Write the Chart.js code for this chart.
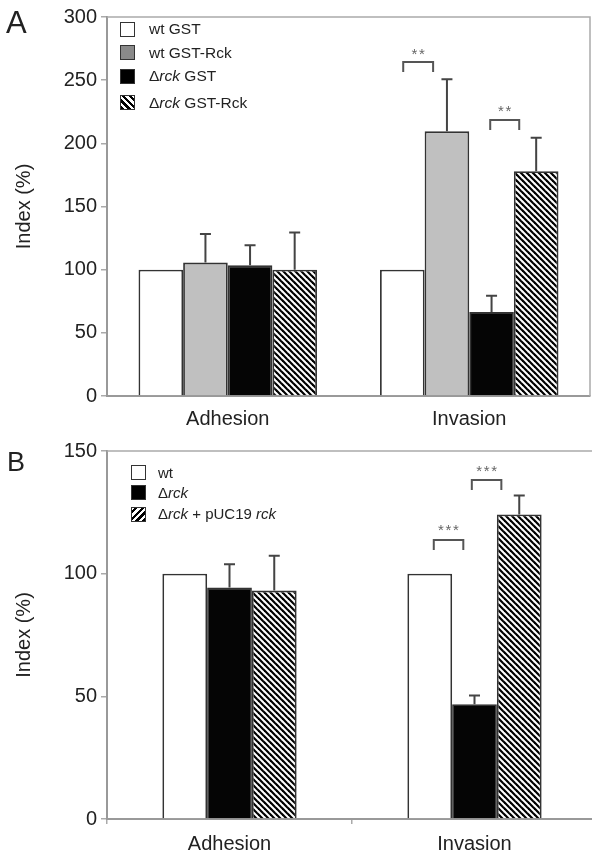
<!DOCTYPE html>
<html>
<head>
<meta charset="utf-8">
<script src="https://cdn.jsdelivr.net/npm/chart.js@4.4.1/dist/chart.umd.min.js"></script>
<style>
  html, body { margin: 0; padding: 0; background: #fff; }
  #wrap { position: relative; width: 592px; height: 855px; overflow: hidden; font-family: "Liberation Sans", Arial, sans-serif; color: #222; }
  .panel { position: absolute; left: 0; }
  .letter { position: absolute; font-size: 29px; line-height: 1; color: #222; }
  .leg { position: absolute; height: 18px; line-height: 18px; white-space: pre; }
  .box { position: absolute; box-sizing: border-box; width: 15px; height: 15px; border: 1.5px solid #333; }
</style>
</head>
<body>
<div id="wrap">
  <div class="panel" style="top:0;width:592px;height:430px"><canvas id="chartA" width="592" height="430"></canvas></div>
  <div class="panel" style="top:430px;width:600px;height:425px"><canvas id="chartB" width="600" height="425"></canvas></div>
  <div class="letter" style="left:6px;top:7px;font-size:31px">A</div>
  <div class="letter" style="left:7px;top:449px;font-size:27px">B</div>
  <div id="legendA"></div>
  <div id="legendB"></div>
</div>
<script>
const categories = ["Adhesion", "Invasion"];

// panel A
const wtGST = [100, 100];
const wtGSTRck = [105.6, 209.5];
const wtGSTRckErr = [22.7, 41.3];
const rckGST = [103.4, 66.4];
const rckGSTErr = [15.9, 13.0];
const rckGSTRck = [100, 178];
const rckGSTRckErr = [29.4, 26.5];
const ticksA = [0, 50, 100, 150, 200, 250, 300];

// panel B
const wtB = [100, 100];
const rckB = [94.4, 46.8];
const rckBErr = [9.4, 3.5];
const rckPuc = [93.1, 124.1];
const rckPucErr = [14.2, 7.8];
const ticksB = [0, 50, 100, 150];

// significance brackets: category, left/right position in bar units, bracket top value, stars
const bracketsA = [
  { cat: 1, from: 0.02, to: 0.69, y: 264.3, labelY: 273.8, stars: 2 },
  { cat: 1, from: 1.97, to: 2.62, y: 218.5, labelY: 228.6, stars: 2 },
];
const bracketsB = [
  { cat: 1, from: 0.09, to: 0.75, y: 113.7, labelY: 119.2, stars: 3 },
  { cat: 1, from: 0.94, to: 1.6, y: 138.2, labelY: 143.4, stars: 3 },
];

const FONT = "'Liberation Sans', Arial, sans-serif";
Chart.defaults.font.family = FONT;
Chart.defaults.color = "#222";

function hatch() {
  const s = 6;
  const c = document.createElement("canvas");
  c.width = s; c.height = s;
  const g = c.getContext("2d");
  g.fillStyle = "#fff";
  g.fillRect(0, 0, s, s);
  g.strokeStyle = "#000";
  g.lineWidth = 2.2;
  for (const x of [-s, 0, s]) {
    g.beginPath();
    g.moveTo(x - 1, -1);
    g.lineTo(x + s + 1, s + 1);
    g.stroke();
  }
  return g.createPattern(c, "repeat");
}

const extras = {
  id: "extras",
  afterDatasetsDraw(chart, args, opts) {
    const ctx = chart.ctx;
    const y = chart.scales.y;
    const area = chart.chartArea;
    ctx.save();
    // frame
    ctx.strokeStyle = "#aaa";
    ctx.lineWidth = 1.5;
    ctx.beginPath();
    ctx.moveTo(area.left, area.top);
    ctx.lineTo(area.right, area.top);
    if (opts.rightBorder) ctx.lineTo(area.right, area.bottom);
    ctx.stroke();
    // error bars
    ctx.strokeStyle = "#444";
    ctx.lineWidth = 2;
    chart.data.datasets.forEach((ds, i) => {
      if (!ds.errors) return;
      chart.getDatasetMeta(i).data.forEach((bar, j) => {
        const top = y.getPixelForValue(ds.data[j] + ds.errors[j]);
        ctx.beginPath();
        ctx.moveTo(bar.x, bar.y);
        ctx.lineTo(bar.x, top);
        ctx.moveTo(bar.x - 5.5, top);
        ctx.lineTo(bar.x + 5.5, top);
        ctx.stroke();
      });
    });
    // brackets
    ctx.strokeStyle = "#555";
    ctx.fillStyle = "#666";
    ctx.font = "15px " + FONT;
    ctx.textAlign = "center";
    ctx.textBaseline = "alphabetic";
    for (const b of opts.brackets) {
      const x0 = chart.getDatasetMeta(0).data[b.cat].x;
      const step = chart.getDatasetMeta(1).data[b.cat].x - x0;
      const l = x0 + b.from * step, r = x0 + b.to * step;
      const t = y.getPixelForValue(b.y);
      ctx.beginPath();
      ctx.moveTo(l, t + 10);
      ctx.lineTo(l, t);
      ctx.lineTo(r, t);
      ctx.lineTo(r, t + 10);
      ctx.stroke();
      const ly = y.getPixelForValue(b.labelY);
      const cx = (l + r) / 2;
      for (let k = 0; k < b.stars; k++) {
        ctx.fillText("*", cx + (k - (b.stars - 1) / 2) * 7.5, ly + 8.5);
      }
    }
    ctx.restore();
  },
};

function makeChart(id, datasets, max, ticks, cfg) {
  return new Chart(document.getElementById(id), {
    type: "bar",
    data: { labels: categories, datasets },
    plugins: [extras],
    options: {
      responsive: false,
      animation: false,
      layout: { padding: { top: cfg.top, right: cfg.right, left: 0, bottom: 0 } },
      datasets: { bar: { categoryPercentage: cfg.catPct, barPercentage: 1, borderColor: "#333", borderWidth: 1.8, borderSkipped: "bottom" } },
      scales: {
        x: {
          grid: { display: cfg.xTicks, drawOnChartArea: false, tickLength: 5, color: "#aaa", lineWidth: 1.5 },
          border: { display: true, color: "#999", width: 2 },
          ticks: { font: { size: 20 }, color: "#222", padding: cfg.xPad },
          afterFit: (s) => { s.height = cfg.xHeight; },
        },
        y: {
          min: 0,
          max: max,
          afterBuildTicks: (s) => { s.ticks = ticks.map((v) => ({ value: v })); },
          grid: { drawOnChartArea: false, tickLength: 6, color: "#aaa", lineWidth: 1.5 },
          border: { display: true, color: "#999", width: 2 },
          ticks: { font: { size: 20 }, color: "#222", padding: 4 },
          title: { display: true, text: "Index (%)", font: { size: 20 }, color: "#222", padding: { top: 12, bottom: 0 } },
          afterFit: (s) => { s.width = 107; },
        },
      },
      plugins: {
        legend: { display: false },
        tooltip: { enabled: false },
        extras: { brackets: cfg.brackets, rightBorder: cfg.rightBorder },
      },
    },
  });
}

const pat = hatch();

makeChart("chartA", [
  { label: "wt GST", data: wtGST, backgroundColor: "#fff" },
  { label: "wt GST-Rck", data: wtGSTRck, errors: wtGSTRckErr, backgroundColor: "#c0c0c0" },
  { label: "Δrck GST", data: rckGST, errors: rckGSTErr, backgroundColor: "#050505" },
  { label: "Δrck GST-Rck", data: rckGSTRck, errors: rckGSTRckErr, backgroundColor: pat },
], 300, ticksA, { top: 17, right: 2, catPct: 0.739, xHeight: 34, xPad: 6, xTicks: false, brackets: bracketsA, rightBorder: true });

makeChart("chartB", [
  { label: "wt", data: wtB, backgroundColor: "#fff" },
  { label: "Δrck", data: rckB, errors: rckBErr, backgroundColor: "#050505" },
  { label: "Δrck + pUC19 rck", data: rckPuc, errors: rckPucErr, backgroundColor: pat },
], 150, ticksB, { top: 21, right: 3, catPct: 0.548, xHeight: 36, xPad: 8, xTicks: true, brackets: bracketsB, rightBorder: false });

// legends (HTML so that "rck" can be italic)
const legendA = [
  { y: 29, fill: "#fff", html: "wt GST" },
  { y: 52.5, fill: "#8a8a8a", html: "wt GST-Rck" },
  { y: 76, fill: "#000", html: "Δ<i>rck</i> GST" },
  { y: 102.5, fill: "repeating-linear-gradient(45deg, #000 0 2.4px, #fff 2.4px 4.8px)", html: "Δ<i>rck</i> GST-Rck" },
];
const legendB = [
  { y: 472.7, fill: "#fff", html: "wt" },
  { y: 492.5, fill: "#000", html: "Δ<i>rck</i>" },
  { y: 514, fill: "repeating-linear-gradient(-45deg, #000 0 2.4px, #fff 2.4px 4.8px)", html: "Δ<i>rck</i> + pUC19 <i>rck</i>" },
];

function renderLegend(id, items, boxX, textX, size) {
  document.getElementById(id).innerHTML = items
    .map((it) => `<div class="box" style="left:${boxX}px;top:${it.y - 7.5}px;background:${it.fill}"></div>` +
      `<div class="leg" style="left:${textX}px;top:${it.y - 9}px;font-size:${size}px">${it.html}</div>`)
    .join("");
}
renderLegend("legendA", legendA, 119.5, 149, 15.5);
renderLegend("legendB", legendB, 130.5, 158, 15);
</script>
</body>
</html>
